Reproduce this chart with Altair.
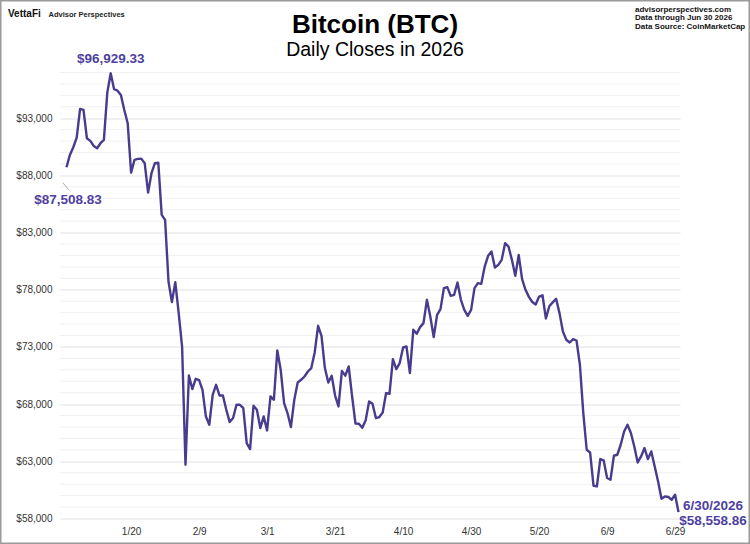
import altair as alt
import pandas as pd

# ---- data -------------------------------------------------------------
dates = pd.date_range("2026-01-01", "2026-06-30", freq="D").strftime("%Y-%m-%d").tolist()

closes = [
    88717, 89793, 90465, 91305, 93813, 93726, 91252, 91016, 90579, 90378,
    90815, 91103, 95237, 96929.33, 95534, 95411, 95036, 93725, 92562, 88246,
    89356, 89443, 89469, 89067, 86498, 88193, 89067, 89119, 84549, 84112,
    78720, 76920, 78668, 75959, 73040, 62702, 70506, 69317, 70217, 70104,
    69256, 66923, 66197, 68819, 69693, 68758, 68758, 67508, 66433, 66783,
    67945, 67945, 67657, 64598, 64074, 67858, 67508, 65909, 66923, 65699,
    68670, 68382, 72690, 71004, 68094, 67220, 65996, 68382, 69894, 70130,
    70418, 70855, 71152, 72516, 74849, 73975, 71152, 69894, 70479, 68750,
    67797, 70900, 70490, 71292, 68670, 66300, 66285, 65930, 66600, 68233,
    68032, 66783, 66870, 67272, 68968, 68906, 71939, 71065, 71589, 72952,
    73040, 70715, 74499, 74150, 74735, 75085, 77121, 75662, 73861, 75810,
    76308, 78143, 78231, 77470, 77558, 78633, 77121, 76247, 75723, 76247,
    78143, 78580, 78519, 80031, 80966, 81342, 79944, 80180, 80617, 82076,
    81779, 80617, 79218, 81053, 78930, 77995, 77380, 76930, 76720, 77409,
    77520, 75490, 76560, 76900, 77208, 75959, 74351, 73625, 73390, 73687,
    73564, 71441, 67220, 64012, 63777, 60866, 60805, 63200, 63077, 61539,
    61391, 63488, 63575, 64449, 65612, 66197, 65472, 64301, 62903, 63427,
    64161, 63200, 63864, 62553, 61242, 59730, 59931, 59879, 59643, 60080,
    58558.86,
]

tick_dates = ["2026-01-20", "2026-02-09", "2026-03-01", "2026-03-21", "2026-04-10",
              "2026-04-30", "2026-05-20", "2026-06-09", "2026-06-29"]
y_major = [58000, 63000, 68000, 73000, 78000, 83000, 88000, 93000]
y_minor = [v for v in range(58000, 97001, 1000) if v not in y_major]

peak_date, peak_label = "2026-01-14", "$96,929.33"
start_date, start_label = "2026-01-01", "$87,508.83"
end_date, end_label_date, end_label_value = "2026-06-30", "6/30/2026", "$58,558.86"

title_text = "Bitcoin (BTC)"
subtitle_text = "Daily Closes in 2026"
source_lines = ["advisorperspectives.com", "Data through  Jun 30 2026", "Data Source: CoinMarketCap"]

# ---- chart ------------------------------------------------------------
FONT = "Liberation Sans"
PURPLE = "#483C8F"
LABEL_PURPLE = "#4E3FA0"

df = pd.DataFrame({"date": dates, "close": closes})


def dt(s, hours=0, minutes=0):
    y, m, d = (int(p) for p in s.split("-"))
    return alt.DateTime(year=y, month=m, date=d, hours=hours, minutes=minutes, utc=True)


x_scale = alt.Scale(type="utc", domain=[dt("2025-12-30", 2, 10), dt("2026-06-30", 10, 34)])
y_scale = alt.Scale(domain=[58000, 97000], nice=False, zero=False)

x_axis = alt.Axis(
    values=[dt(s) for s in tick_dates],
    labelExpr="utcFormat(datum.value, '%-m/%-d')",
    grid=False, ticks=False, domain=False, labelOverlap=False,
    labelFont=FONT, labelFontSize=10, labelColor="#333333",
    labelPadding=8, title=None,
)
y_axis = alt.Axis(
    values=y_major,
    format="$,d",
    gridColor="#e0e0e0", gridWidth=1, labelOverlap=False,
    ticks=False, domain=False,
    labelFont=FONT, labelFontSize=10, labelColor="#333333",
    labelPadding=8, title=None,
)

minor = alt.Chart(pd.DataFrame({"v": y_minor})).mark_rule(color="#f1f1f1", strokeWidth=1).encode(
    y=alt.Y("v:Q", scale=y_scale, axis=y_axis))

base = alt.Chart(df)

line = base.mark_line(color=PURPLE, strokeWidth=2.4, strokeJoin="round").encode(
    x=alt.X("date:T", scale=x_scale, axis=x_axis),
    y=alt.Y("close:Q", scale=y_scale, axis=y_axis),
)


def pick(day):
    return base.transform_filter(f"utcFormat(datum.date, '%Y-%m-%d') === '{day}'")


label_style = dict(font=FONT, fontSize=13.5, fontWeight="bold", color=LABEL_PURPLE, baseline="alphabetic")

peak = pick(peak_date).mark_text(dy=-10, **label_style).encode(
    x="date:T", y="close:Q", text=alt.value(peak_label))
start = pick(start_date).mark_text(dx=1.5, dy=37, **label_style).encode(
    x="date:T", y="close:Q", text=alt.value(start_label))
end_a = pick(end_date).mark_text(dx=34.5, dy=-2.5, **label_style).encode(
    x="date:T", y="close:Q", text=alt.value(end_label_date))
end_b = pick(end_date).mark_text(dx=34.5, dy=12.5, **label_style).encode(
    x="date:T", y="close:Q", text=alt.value(end_label_value))

leader = pick(start_date).mark_rule(color="#aaaaaa", strokeWidth=1).encode(
    x=alt.value(3), x2=alt.value(9), y=alt.value(110.5), y2=alt.value(117.5))

one = alt.Chart(pd.DataFrame({"k": [0]}))

title = one.mark_text(font=FONT, fontSize=26, fontWeight="bold", color="#000000",
                      align="center", baseline="alphabetic").encode(
    x=alt.value(315), y=alt.value(-40), text=alt.value(title_text))
subtitle = one.mark_text(font=FONT, fontSize=19.5, color="#000000",
                         align="center", baseline="alphabetic").encode(
    x=alt.value(315), y=alt.value(-17), text=alt.value(subtitle_text))

logo = one.mark_text(font=FONT, fontSize=10, fontWeight="bold", color="#111111",
                     align="left", baseline="alphabetic").encode(
    x=alt.value(-52), y=alt.value(-55.5), text=alt.value("VettaFi"))
logo2 = one.mark_text(font=FONT, fontSize=7.5, fontWeight="bold", color="#222222",
                      align="left", baseline="alphabetic").encode(
    x=alt.value(-11.5), y=alt.value(-55.3), text=alt.value("Advisor Perspectives"))

src_layers = []
for i, s in enumerate(source_lines):
    src_layers.append(
        one.mark_text(font=FONT, fontSize=8, fontWeight="bold", color="#111111",
                      align="left", baseline="alphabetic").encode(
            x=alt.value(575), y=alt.value(-61 + i * 8.7), text=alt.value(s))
    )

frame = one.mark_rect(fill=None, stroke="#9a9a9a", strokeWidth=1.5).encode(
    x=alt.value(-59.25), x2=alt.value(689.25), y=alt.value(-71.75), y2=alt.value(470.75))

chart = alt.layer(
    minor, line, leader, peak, start, end_a, end_b, title, subtitle, logo, logo2, *src_layers, frame
).properties(
    width=620, height=446,
    padding={"left": 60, "top": 72.5, "right": 70, "bottom": 25.5},
    autosize=alt.AutoSizeParams(type="none"),
    background="white",
).configure_view(stroke=None)

chart.save("out.html", embed_options={"renderer": "svg", "actions": False})
